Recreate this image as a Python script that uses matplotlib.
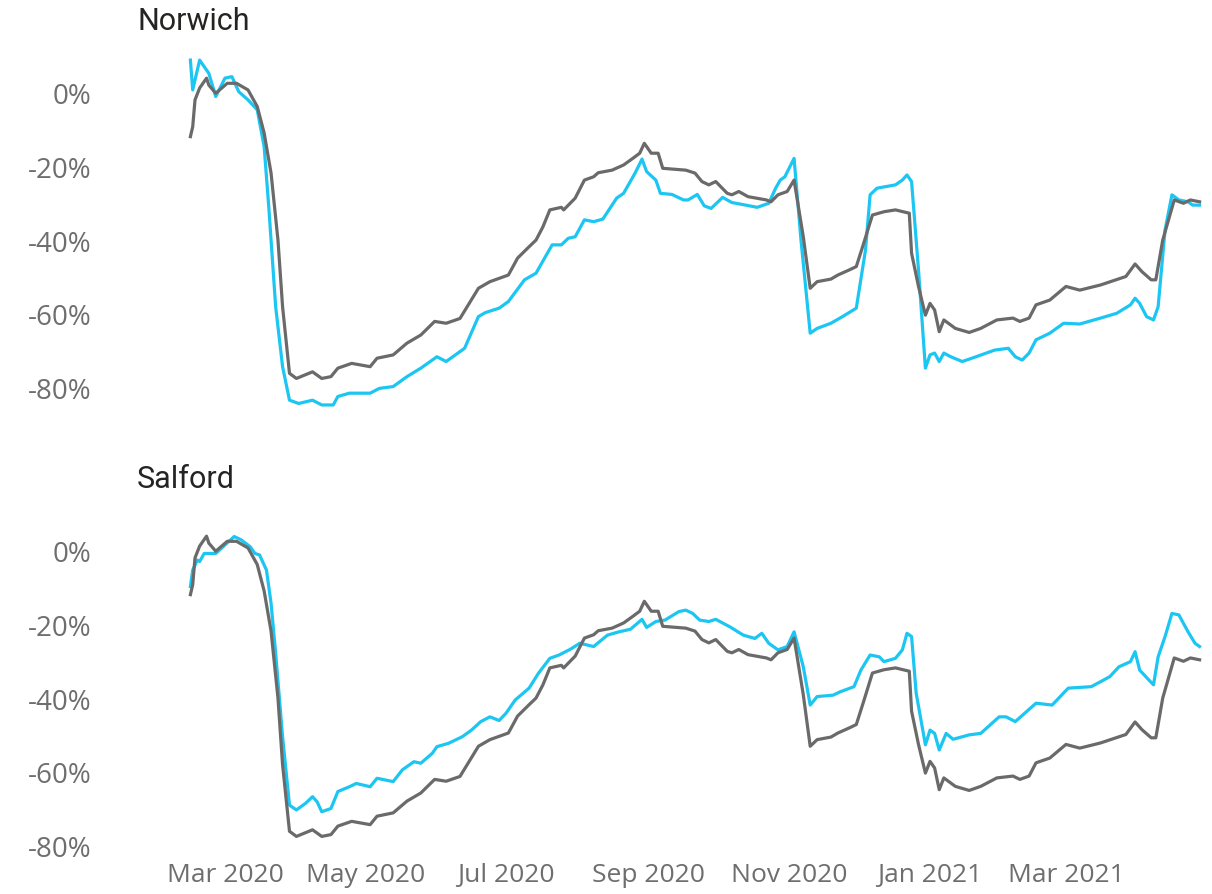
import matplotlib
matplotlib.use("Agg")
import matplotlib.pyplot as plt
import pandas as pd

# ---------------- data ----------------
# Grey reference series (same in both panels)
ref_dates = ["2020-02-15","2020-02-16","2020-02-17","2020-02-19","2020-02-22","2020-02-23","2020-02-26",
             "2020-03-02","2020-03-06","2020-03-11","2020-03-15","2020-03-18","2020-03-21","2020-03-24",
             "2020-03-26","2020-03-29","2020-04-01","2020-04-08","2020-04-12","2020-04-16","2020-04-19",
             "2020-04-25","2020-05-03","2020-05-06","2020-05-13","2020-05-19","2020-05-25","2020-05-31",
             "2020-06-05","2020-06-11","2020-06-15","2020-06-19","2020-06-24","2020-06-28","2020-07-02",
             "2020-07-06","2020-07-11","2020-07-14","2020-07-17","2020-07-20","2020-07-25","2020-07-26",
             "2020-07-31","2020-08-04","2020-08-08","2020-08-10","2020-08-16","2020-08-21","2020-08-25",
             "2020-08-28","2020-08-30","2020-09-02","2020-09-05","2020-09-07","2020-09-17","2020-09-21",
             "2020-09-24","2020-09-27","2020-09-30","2020-10-05","2020-10-07","2020-10-10","2020-10-14",
             "2020-10-22","2020-10-24","2020-10-27","2020-10-31","2020-11-03","2020-11-07","2020-11-10",
             "2020-11-13","2020-11-19","2020-11-22","2020-11-27","2020-11-30","2020-12-03","2020-12-07",
             "2020-12-12","2020-12-17","2020-12-23","2020-12-24","2020-12-27","2020-12-30","2021-01-01",
             "2021-01-03","2021-01-05","2021-01-07","2021-01-12","2021-01-18","2021-01-23","2021-01-30",
             "2021-02-06","2021-02-09","2021-02-13","2021-02-16","2021-02-22","2021-03-01","2021-03-07",
             "2021-03-16","2021-03-27","2021-03-31","2021-04-03","2021-04-07","2021-04-09","2021-04-12",
             "2021-04-17","2021-04-21","2021-04-24","2021-04-28"]
ref_values = [-11.6,-8.9,-1.6,1.6,4.3,2.4,0.2,
              2.9,2.9,1.1,-3.4,-10.6,-21.5,-39.7,
              -57.8,-75.9,-77.3,-75.5,-77.3,-76.8,-74.5,
              -73.2,-74.1,-71.8,-70.9,-67.7,-65.5,-61.8,
              -62.3,-61.0,-56.9,-52.8,-51.0,-50.1,-49.2,
              -44.6,-41.5,-39.7,-36.1,-31.5,-30.8,-31.5,
              -28.3,-23.4,-22.5,-21.4,-20.7,-19.3,-17.5,
              -16.1,-13.4,-16.1,-16.1,-20.2,-20.7,-21.5,
              -23.8,-24.7,-23.8,-27.0,-27.4,-26.5,-27.9,
              -28.8,-29.3,-27.4,-26.5,-23.4,-38.8,-52.8,
              -51.0,-50.3,-49.2,-47.8,-46.9,-41.0,-32.9,
              -32.0,-31.5,-32.4,-43.3,-52.3,-60.1,-56.9,
              -58.7,-64.6,-61.4,-63.7,-64.8,-63.7,-61.4,
              -60.9,-61.8,-60.9,-57.3,-56.0,-52.3,-53.3,
              -51.9,-49.6,-46.2,-48.3,-50.5,-50.5,-39.7,
              -28.8,-29.7,-28.8,-29.3]

norwich_dates = ["2020-02-15","2020-02-16","2020-02-19","2020-02-21","2020-02-23","2020-02-26","2020-03-01",
                 "2020-03-04","2020-03-07","2020-03-11","2020-03-15","2020-03-18","2020-03-20","2020-03-23",
                 "2020-03-26","2020-03-29","2020-04-02","2020-04-08","2020-04-12","2020-04-17","2020-04-19",
                 "2020-04-24","2020-05-03","2020-05-07","2020-05-13","2020-05-19","2020-05-25","2020-06-01",
                 "2020-06-05","2020-06-13","2020-06-19","2020-06-22","2020-06-28","2020-07-02","2020-07-09",
                 "2020-07-14","2020-07-21","2020-07-25","2020-07-28","2020-07-31","2020-08-04","2020-08-08",
                 "2020-08-12","2020-08-18","2020-08-21","2020-08-26","2020-08-29","2020-08-31","2020-09-04",
                 "2020-09-06","2020-09-11","2020-09-16","2020-09-18","2020-09-22","2020-09-25","2020-09-28",
                 "2020-10-03","2020-10-07","2020-10-13","2020-10-18","2020-10-23","2020-10-26","2020-10-28",
                 "2020-10-30","2020-11-03","2020-11-06","2020-11-10","2020-11-13","2020-11-19","2020-11-24",
                 "2020-11-30","2020-12-04","2020-12-06","2020-12-09","2020-12-17","2020-12-20","2020-12-22",
                 "2020-12-24","2020-12-27","2020-12-30","2021-01-01","2021-01-03","2021-01-05","2021-01-07",
                 "2021-01-10","2021-01-15","2021-01-21","2021-01-29","2021-02-04","2021-02-07","2021-02-10",
                 "2021-02-13","2021-02-16","2021-02-22","2021-02-28","2021-03-07","2021-03-16","2021-03-23",
                 "2021-03-29","2021-03-31","2021-04-02","2021-04-05","2021-04-08","2021-04-10","2021-04-13",
                 "2021-04-16","2021-04-19","2021-04-23","2021-04-25","2021-04-28"]
norwich_values = [9.2,1.1,9.2,7.4,5.6,-0.7,4.3,
                  4.7,0.6,-1.6,-4.3,-14.3,-30.6,-57.8,
                  -74.1,-83.2,-84.1,-83.2,-84.5,-84.5,-82.2,
                  -81.3,-81.3,-80.0,-79.5,-76.8,-74.5,-71.4,
                  -72.7,-69.1,-60.5,-59.4,-58.2,-56.4,-50.5,
                  -48.7,-41.0,-41.0,-39.2,-38.8,-34.2,-34.7,
                  -34.0,-28.3,-27.0,-21.5,-17.7,-21.1,-23.4,
                  -27.0,-27.3,-28.8,-28.8,-27.3,-30.4,-31.1,
                  -28.1,-29.5,-30.2,-30.8,-29.7,-25.6,-23.4,
                  -22.5,-17.5,-39.7,-65.0,-63.7,-62.3,-60.5,
                  -58.2,-42.4,-27.4,-25.6,-24.7,-23.4,-22.0,
                  -23.8,-47.8,-74.5,-70.9,-70.4,-72.7,-70.4,
                  -71.4,-72.7,-71.4,-69.6,-69.1,-71.4,-72.3,
                  -70.4,-66.8,-65.0,-62.3,-62.5,-60.9,-59.6,
                  -57.3,-55.5,-56.9,-60.5,-61.4,-57.8,-37.0,
                  -27.4,-28.8,-29.3,-30.2,-30.2]

salford_dates = ["2020-02-15","2020-02-16","2020-02-18","2020-02-19","2020-02-21","2020-02-26","2020-03-01",
                 "2020-03-05","2020-03-08","2020-03-12","2020-03-14","2020-03-16","2020-03-19","2020-03-21",
                 "2020-03-23","2020-03-26","2020-03-29","2020-04-01","2020-04-05","2020-04-08","2020-04-10",
                 "2020-04-12","2020-04-16","2020-04-19","2020-04-24","2020-04-27","2020-05-03","2020-05-06",
                 "2020-05-13","2020-05-17","2020-05-22","2020-05-25","2020-05-30","2020-06-01","2020-06-06",
                 "2020-06-12","2020-06-16","2020-06-20","2020-06-24","2020-06-28","2020-07-01","2020-07-05",
                 "2020-07-11","2020-07-15","2020-07-20","2020-07-24","2020-07-29","2020-08-02","2020-08-08",
                 "2020-08-14","2020-08-19","2020-08-24","2020-08-29","2020-08-31","2020-09-04","2020-09-08",
                 "2020-09-14","2020-09-17","2020-09-20","2020-09-23","2020-09-27","2020-09-30","2020-10-06",
                 "2020-10-12","2020-10-17","2020-10-20","2020-10-23","2020-10-27","2020-10-31","2020-11-03",
                 "2020-11-07","2020-11-10","2020-11-13","2020-11-20","2020-11-23","2020-11-29","2020-12-02",
                 "2020-12-06","2020-12-10","2020-12-12","2020-12-17","2020-12-20","2020-12-22","2020-12-24",
                 "2020-12-26","2020-12-30","2021-01-01","2021-01-03","2021-01-05","2021-01-08","2021-01-11",
                 "2021-01-18","2021-01-23","2021-01-31","2021-02-03","2021-02-07","2021-02-16","2021-02-23",
                 "2021-03-02","2021-03-12","2021-03-20","2021-03-24","2021-03-29","2021-03-31","2021-04-02",
                 "2021-04-06","2021-04-08","2021-04-10","2021-04-13","2021-04-16","2021-04-19","2021-04-23",
                 "2021-04-26","2021-04-28"]
salford_values = [-9.4,-4.9,-2.2,-2.6,-0.4,-0.4,1.9,
                  4.2,3.3,1.4,-0.4,-0.8,-4.9,-13.9,
                  -27.5,-50.2,-68.8,-70.1,-68.3,-66.5,-67.9,
                  -70.6,-69.7,-65.1,-63.8,-62.9,-63.8,-61.5,
                  -62.4,-59.2,-57.0,-57.4,-54.7,-52.9,-52.0,
                  -50.2,-48.4,-46.1,-44.8,-45.8,-43.8,-40.2,
                  -37.0,-33.0,-28.9,-28.0,-26.4,-24.8,-25.7,
                  -22.6,-21.7,-21.0,-18.3,-20.5,-18.9,-18.5,
                  -16.2,-15.8,-16.7,-18.5,-18.9,-18.3,-20.3,
                  -22.6,-23.5,-22.1,-24.8,-26.6,-25.7,-21.7,
                  -31.2,-41.6,-39.3,-38.9,-38.0,-36.6,-32.1,
                  -28.0,-28.5,-29.8,-28.9,-26.6,-22.1,-23.0,
                  -38.4,-52.4,-48.4,-49.3,-53.8,-49.3,-50.9,
                  -49.7,-49.3,-44.8,-44.8,-46.1,-41.1,-41.6,
                  -37.0,-36.6,-33.9,-31.2,-29.8,-27.1,-32.1,
                  -34.8,-36.1,-28.5,-23.0,-16.7,-17.1,-21.7,
                  -24.8,-25.7]

panel_titles = ["Norwich", "Salford"]
y_ticks = [0, -20, -40, -60, -80]
y_tick_labels = ["0%", "-20%", "-40%", "-60%", "-80%"]
x_ticks = ["2020-03-01", "2020-05-01", "2020-07-01", "2020-09-01",
           "2020-11-01", "2021-01-01", "2021-03-01"]
x_tick_labels = ["Mar 2020", "May 2020", "Jul 2020", "Sep 2020",
                 "Nov 2020", "Jan 2021", "Mar 2021"]

# ---------------- style ----------------
CYAN = "#1CC6F2"
GREY = "#6A6A6A"
TICK_COLOR = "#6E6E6E"
TITLE_COLOR = "#252423"
plt.rcParams["font.family"] = ["Open Sans", "DejaVu Sans"]

W, H = 1212, 894
fig = plt.figure(figsize=(W / 100, H / 100), dpi=100)

xlim = (pd.Timestamp("2020-02-13"), pd.Timestamp("2021-04-30"))
left = 185.8 / W
width = (1204.2 - 185.8) / W

# top panel: ylim (-90, 12) -> pixel 425.2 .. 49.8
ax1 = fig.add_axes([left, 1 - 425.2 / H, width, (425.2 - 49.8) / H])
# bottom panel: ylim (-83, 6) -> pixel 857.4 .. 529.9
ax2 = fig.add_axes([left, 1 - 857.4 / H, width, (857.4 - 529.9) / H])

ref_x = pd.to_datetime(ref_dates)
series = [(pd.to_datetime(norwich_dates), norwich_values),
          (pd.to_datetime(salford_dates), salford_values)]
ylims = [(-90, 12), (-83, 6)]

for ax, (sx, sv), yl in zip([ax1, ax2], series, ylims):
    ax.plot(sx, sv, color=CYAN, lw=2.3, solid_joinstyle="round", zorder=2)
    ax.plot(ref_x, ref_values, color=GREY, lw=2.3, solid_joinstyle="round", zorder=3)
    ax.set_xlim(*xlim)
    ax.set_ylim(*yl)
    ax.set_yticks(y_ticks)
    ax.set_yticklabels(y_tick_labels)
    ax.tick_params(axis="y", length=0, pad=68, labelsize=20, labelcolor=TICK_COLOR)
    for s in ax.spines.values():
        s.set_visible(False)
    ax.patch.set_alpha(0)

ax1.set_xticks([])
ax2.set_xticks(pd.to_datetime(x_ticks))
ax2.set_xticklabels(x_tick_labels)
ax2.tick_params(axis="x", length=0, pad=4, labelsize=19, labelcolor=TICK_COLOR)

for title, ypix in zip(panel_titles, [22, 480]):
    fig.text(137 / W, 1 - ypix / H, title, fontsize=22, color=TITLE_COLOR, weight="normal",
             ha="left", va="center", family=["Roboto", "DejaVu Sans"])

fig.savefig("out.png", dpi=100, facecolor="white")
